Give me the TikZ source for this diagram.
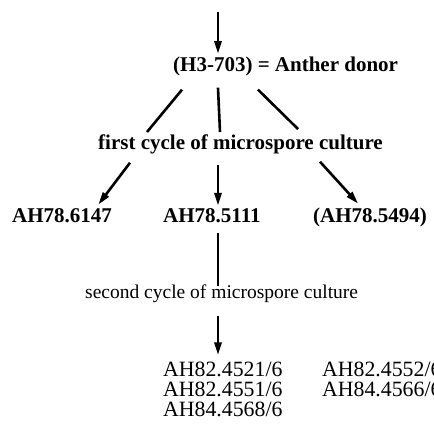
\documentclass[tikz,border=0pt]{standalone}
\usepackage{fontspec}
\setmainfont{Liberation Serif}
\usetikzlibrary{decorations.markings}
\tikzset{
  conn/.style={line width=2.6pt},
  conntip/.style={conn,postaction={decorate},
    decoration={markings,mark=at position 1 with {\fill (-8pt,-4pt) -- (4pt,0pt) -- (-8pt,4pt) -- cycle;}}}
}
\begin{document}
\begin{tikzpicture}
  [x=1pt,y=1pt,every node/.style={inner sep=0pt,anchor=base west},
   boldtext/.style={font=\fontsize{21}{24}\selectfont\bfseries},
   listtext/.style={font=\fontsize{21.8}{26}\selectfont},
   cycletext/.style={font=\fontsize{19.5}{22}\selectfont}]
\useasboundingbox (0,0) rectangle (434,-430);

\coordinate (top) at (218,-12);
\node (donor)[boldtext] at (173,-72) {(H3-703) = Anther donor};
\node (first)[boldtext] at (98,-150) {first cycle of microspore culture};
\node (a6147)[boldtext] at (12,-223) {AH78.6147};
\node (a5111)[boldtext] at (163,-223) {AH78.5111};
\node (a5494)[boldtext] at (313,-223) {(AH78.5494)};
\node (second)[cycletext] at (85,-299) {second cycle of microspore culture};
\node (l4521)[listtext] at (163,-377) {AH82.4521/6};
\node (l4552)[listtext] at (322,-377) {AH82.4552/6};
\node (l4551)[listtext] at (163,-397) {AH82.4551/6};
\node (l4566)[listtext] at (322,-397) {AH84.4566/6};
\node (l4568)[listtext] at (163,-417) {AH84.4568/6};

 \draw [conntip] (top) -- ([yshift=8pt]donor.north west -| top);

 \draw [conn] ([xshift=9pt,yshift=-13pt]donor.south west) -- ([xshift=49pt,yshift=3pt]first.north west);
 \draw [conn] ([xshift=45pt,yshift=-11pt]donor.south west) -- ([xshift=122pt,yshift=3pt]first.north west);
 \draw [conn] ([xshift=85pt,yshift=-13pt]donor.south west) -- ([xshift=200pt,yshift=6pt]first.north west);

 \draw [conntip] ([xshift=32pt,yshift=-8pt]first.south west) -- ([xshift=-11pt,yshift=8pt]a6147.north east);
 \draw [conntip] ([xshift=120pt,yshift=-10pt]first.south west) -- ([xshift=55pt,yshift=8pt]a5111.north west);
 \draw [conntip] ([xshift=222pt,yshift=-7pt]first.south west) -- ([xshift=42pt,yshift=8pt]a5494.north west);

 \draw [conn] ([xshift=55pt,yshift=-10pt]a5111.south west) -- ([xshift=55pt,yshift=-1pt]a5111.south west |- second.north);
 \draw [conntip] ([xshift=55pt,yshift=-13pt]a5111.south west |- second.south) -- ([xshift=55pt,yshift=12pt]a5111.south west |- l4521.north);
\end{tikzpicture}
\end{document}
